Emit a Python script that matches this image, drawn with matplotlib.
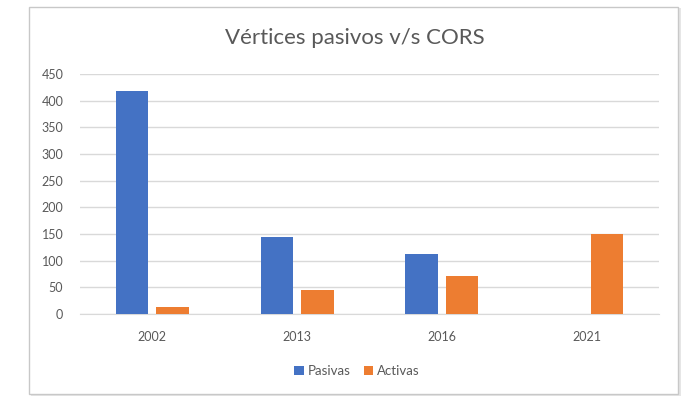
import matplotlib.pyplot as plt
import matplotlib.patches as mpatches
import numpy as np

# chart data
years = ["2002", "2013", "2016", "2021"]
pasivas = [419, 145, 112, 0]
activas = [14, 45, 71, 150]
y_ticks = [0, 50, 100, 150, 200, 250, 300, 350, 400, 450]

blue = "#4472C4"
orange = "#ED7D31"
text_gray = "#595959"

plt.rcParams["font.family"] = ["Lato", "DejaVu Sans"]

fig = plt.figure(figsize=(6.89, 4.01), dpi=100)

# outer chart frame with a soft shadow
fig.patches.append(mpatches.Rectangle((31 / 689, 5 / 401), 650 / 689, 388 / 401,
                                      transform=fig.transFigure, facecolor="#E6E6E6",
                                      edgecolor="none", zorder=0))
fig.patches.append(mpatches.Rectangle((29 / 689, 7 / 401), 649 / 689, 387 / 401,
                                      transform=fig.transFigure, facecolor="white",
                                      edgecolor="#C8C8C8", linewidth=1.0, zorder=1))

ax = fig.add_axes([80 / 689, 1 - 314 / 401, 579 / 689, 240 / 401])
ax.set_zorder(2)
ax.patch.set_alpha(0)

x = np.arange(len(years))
w = 0.225
ax.bar(x - 0.14, pasivas, w, color=blue, label="Pasivas", zorder=3)
ax.bar(x + 0.14, activas, w, color=orange, label="Activas", zorder=3)

ax.set_xlim(-0.5, len(years) - 0.5)
ax.set_ylim(0, 450)
ax.set_yticks(y_ticks)
ax.set_xticks(x)
ax.set_xticklabels(years)
ax.tick_params(axis="both", length=0, labelsize=9, colors=text_gray)
ax.tick_params(axis="y", pad=12)
ax.tick_params(axis="x", pad=12)
ax.yaxis.grid(True, color="#D9D9D9", linewidth=1.0, zorder=0)
for side in ["top", "right", "left"]:
    ax.spines[side].set_visible(False)
ax.spines["bottom"].set_color("#D9D9D9")

fig.text(355 / 689, 1 - 38 / 401, "Vértices pasivos v/s CORS", ha="center", va="center",
         fontsize=16, color=text_gray)

fig.legend(loc="center", bbox_to_anchor=(357 / 689, 1 - 371 / 401), ncol=2, frameon=False,
           fontsize=9.5, handlelength=0.7, handleheight=0.7, handletextpad=0.3,
           columnspacing=1.0, labelcolor=text_gray)

fig.savefig("out.png", dpi=100)
